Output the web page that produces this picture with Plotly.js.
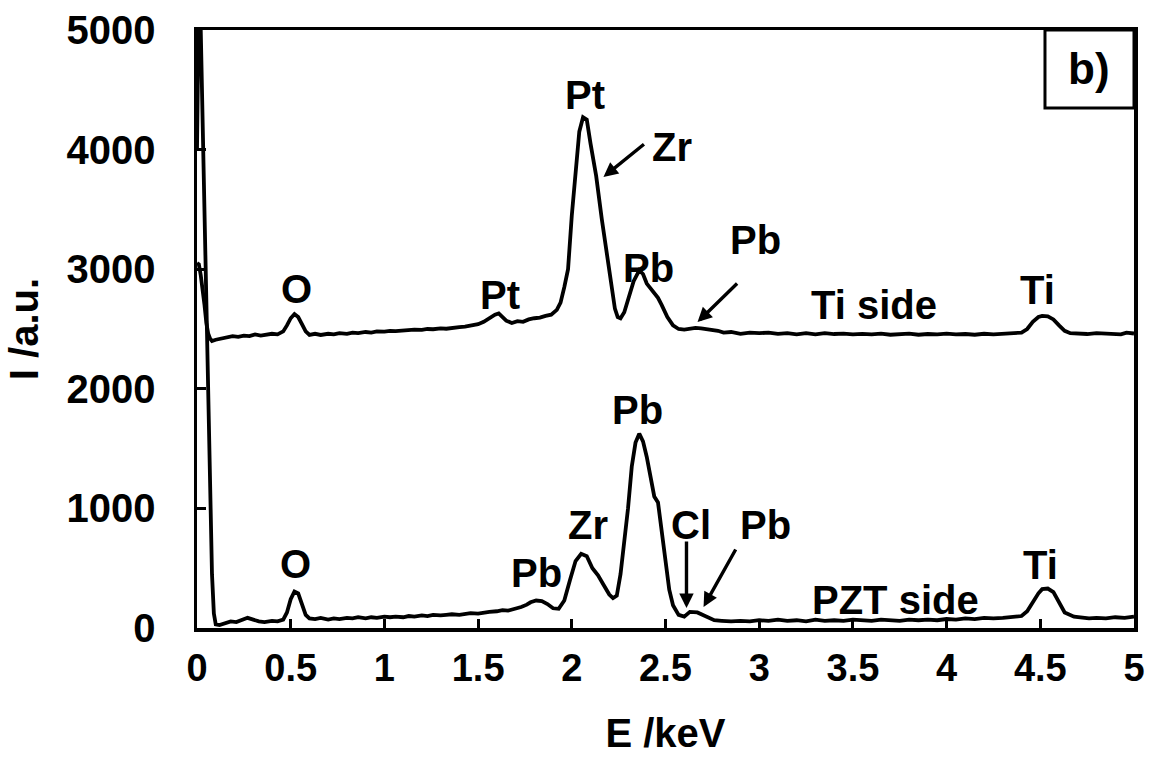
<!DOCTYPE html>
<html>
<head>
<meta charset="utf-8">
<script src="https://cdn.plot.ly/plotly-3.0.1.min.js"></script>
<style>html,body{margin:0;padding:0;background:#fff;}#chart{width:1149px;height:758px;}</style>
</head>
<body>
<div id="chart"></div>
<script>
// Ti side spectrum (upper curve)
const tiSideE = [0.00,0.01,0.02,0.03,0.04,0.05,0.06,0.07,0.08,0.10,0.13,0.16,0.19,0.22,0.25,0.28,0.31,0.34,0.37,0.40,0.43,0.46,0.48,0.50,0.52,0.54,0.56,0.58,0.60,0.63,0.66,0.70,0.73,0.76,0.80,0.83,0.86,0.90,0.93,0.96,1.00,1.03,1.06,1.10,1.13,1.16,1.20,1.23,1.26,1.30,1.33,1.36,1.40,1.43,1.46,1.50,1.53,1.56,1.59,1.61,1.63,1.65,1.68,1.71,1.74,1.77,1.80,1.83,1.86,1.89,1.92,1.94,1.96,1.98,2.00,2.02,2.04,2.06,2.08,2.10,2.13,2.16,2.19,2.21,2.23,2.245,2.26,2.28,2.30,2.33,2.36,2.38,2.40,2.43,2.46,2.48,2.51,2.54,2.57,2.60,2.63,2.66,2.69,2.72,2.75,2.78,2.81,2.85,2.90,2.95,3.00,3.05,3.10,3.15,3.20,3.25,3.30,3.35,3.40,3.45,3.50,3.55,3.60,3.65,3.70,3.75,3.80,3.85,3.90,3.95,4.00,4.05,4.10,4.15,4.20,4.25,4.30,4.35,4.40,4.43,4.46,4.49,4.51,4.54,4.57,4.60,4.63,4.66,4.70,4.75,4.80,4.85,4.90,4.93,4.96,5.00];
const tiSideI = [3050,3040,2950,2850,2700,2550,2460,2420,2400,2410,2420,2425,2440,2435,2445,2440,2455,2445,2450,2460,2455,2480,2530,2590,2625,2600,2540,2480,2450,2460,2450,2460,2455,2465,2460,2470,2465,2475,2470,2480,2478,2485,2482,2490,2488,2495,2492,2500,2498,2505,2502,2510,2515,2520,2530,2540,2560,2590,2620,2630,2600,2570,2550,2565,2560,2580,2590,2595,2610,2620,2660,2720,2850,3000,3450,3850,4150,4270,4250,4050,3780,3420,3080,2860,2670,2600,2590,2640,2750,2900,2990,2960,2880,2820,2760,2700,2600,2530,2500,2495,2500,2510,2505,2500,2490,2485,2470,2475,2460,2470,2465,2470,2460,2465,2455,2465,2455,2465,2458,2462,2455,2460,2455,2462,2452,2458,2462,2452,2458,2455,2462,2455,2458,2452,2460,2455,2458,2462,2470,2500,2560,2600,2610,2605,2580,2530,2485,2465,2460,2458,2465,2460,2462,2455,2470,2462];

// PZT side spectrum (lower curve)
const pztSideE = [0.00,0.01,0.02,0.03,0.04,0.05,0.06,0.07,0.08,0.09,0.10,0.12,0.15,0.18,0.21,0.24,0.27,0.30,0.33,0.36,0.40,0.43,0.46,0.48,0.50,0.52,0.54,0.56,0.58,0.60,0.63,0.66,0.70,0.73,0.76,0.80,0.83,0.86,0.90,0.93,0.96,1.00,1.03,1.06,1.10,1.13,1.16,1.20,1.23,1.26,1.30,1.33,1.36,1.40,1.43,1.46,1.50,1.53,1.56,1.60,1.63,1.66,1.70,1.73,1.76,1.78,1.81,1.84,1.87,1.90,1.93,1.96,1.99,2.02,2.05,2.08,2.11,2.14,2.17,2.20,2.22,2.24,2.26,2.28,2.30,2.32,2.34,2.36,2.38,2.40,2.42,2.44,2.46,2.48,2.50,2.52,2.54,2.57,2.60,2.63,2.67,2.70,2.73,2.76,2.80,2.85,2.90,2.95,3.00,3.05,3.10,3.15,3.20,3.25,3.30,3.35,3.40,3.45,3.50,3.55,3.60,3.65,3.70,3.75,3.80,3.85,3.90,3.95,4.00,4.05,4.10,4.15,4.20,4.25,4.30,4.35,4.40,4.43,4.46,4.49,4.51,4.54,4.57,4.60,4.63,4.68,4.72,4.76,4.80,4.85,4.90,4.95,5.00];
const pztSideI = [4000,5300,5000,4200,3300,2500,1700,1000,450,120,30,25,40,55,50,70,85,70,55,50,60,55,70,130,240,305,290,200,110,80,75,85,70,80,75,85,80,90,80,90,85,95,90,95,90,100,95,105,100,110,105,110,115,110,120,125,120,130,135,140,150,145,160,175,195,215,230,225,200,165,160,230,400,560,620,600,500,440,360,280,250,270,450,700,1000,1350,1550,1625,1560,1430,1250,1100,1050,800,520,320,190,110,95,135,130,110,85,65,60,55,60,55,65,60,70,60,65,55,70,60,65,60,70,65,60,70,65,60,70,65,70,65,75,70,80,75,85,80,85,90,100,140,220,290,325,330,300,220,130,95,85,80,85,80,90,85,95,90];

// Peak labels
const labelText = ["O","Pt","Pt","Zr","Pb","Pb","Ti side","Ti","Pb","Zr","Pb","Cl","Pb","PZT side","Ti","O"];
const labelE    = [0.529,1.619,2.073,2.537,2.409,2.981,3.611,4.487,2.350,2.089,1.811,2.634,3.034,3.729,4.503,0.524];
const labelI    = [2834,2784,4457,4022,3010,3244,2701,2826,1823,861,460,861,861,234,527,535];

// Arrows: head (E, I) and tail (E, I)
const arrowHeadE = [2.169,2.671,2.612,2.703];
const arrowHeadI = [3771,2558,167,176];
const arrowTailE = [2.393,2.890,2.612,2.879];
const arrowTailI = [4055,2893,736,669];

const xTicks = [0,0.5,1,1.5,2,2.5,3,3.5,4,4.5,5];
const yTicks = [0,1000,2000,3000,4000,5000];

const FONT = "Liberation Sans, Arial, sans-serif";

const traces = [
  {x: tiSideE, y: tiSideI, type: 'scatter', mode: 'lines', name: 'Ti side',
   line: {color: '#000', width: 3.8}},
  {x: pztSideE, y: pztSideI, type: 'scatter', mode: 'lines', name: 'PZT side',
   line: {color: '#000', width: 3.8}}
];

const annotations = [];
for (let i = 0; i < labelText.length; i++) {
  annotations.push({x: labelE[i], y: labelI[i], xref: 'x', yref: 'y', text: labelText[i],
    xanchor: 'center', yanchor: 'middle',
    showarrow: false, font: {family: FONT, size: 40, color: '#000', weight: 'bold'}});
}
for (let i = 0; i < arrowHeadE.length; i++) {
  annotations.push({x: arrowHeadE[i], y: arrowHeadI[i], ax: arrowTailE[i], ay: arrowTailI[i],
    xref: 'x', yref: 'y', axref: 'x', ayref: 'y', text: '', showarrow: true,
    arrowhead: 2, arrowsize: 0.85, arrowwidth: 3.4, arrowcolor: '#000'});
}
annotations.push({x: 0.9525, y: 0.935, xref: 'paper', yref: 'paper', text: 'b)', showarrow: false,
  xanchor: 'center', yanchor: 'middle',
  font: {family: FONT, size: 44, color: '#000', weight: 'bold'}});

const layout = {
  width: 1149, height: 758,
  margin: {l: 197, r: 15, t: 30, b: 130},
  paper_bgcolor: '#fff', plot_bgcolor: '#fff',
  showlegend: false,
  font: {family: FONT, color: '#000'},
  xaxis: {
    range: [0, 5], tickvals: xTicks, ticktext: xTicks.map(String),
    ticks: 'inside', ticklen: 9, tickwidth: 3, tickcolor: '#000',
    showline: true, linewidth: 3.5, linecolor: '#000', mirror: true,
    showgrid: false, zeroline: false,
    tickfont: {family: FONT, size: 38, color: '#000', weight: 'bold'},
    ticklabelstandoff: 4,
    title: {text: 'E /keV', font: {family: FONT, size: 40, color: '#000', weight: 'bold'}, standoff: 32}
  },
  yaxis: {
    range: [0, 5000], tickvals: yTicks, ticktext: yTicks.map(String),
    ticks: 'inside', ticklen: 9, tickwidth: 3, tickcolor: '#000',
    showline: true, linewidth: 3.5, linecolor: '#000', mirror: true,
    showgrid: false, zeroline: false,
    tickfont: {family: FONT, size: 40, color: '#000', weight: 'bold'},
    ticklabelstandoff: 30,
    title: {text: 'I /a.u.', font: {family: FONT, size: 40, color: '#000', weight: 'bold'}, standoff: 16}
  },
  shapes: [
    {type: 'rect', xref: 'paper', yref: 'paper', x0: 0.905, x1: 1.0, y0: 0.8696, y1: 1.0,
     line: {color: '#000', width: 3}, fillcolor: 'rgba(0,0,0,0)'}
  ],
  annotations: annotations
};

Plotly.newPlot('chart', traces, layout, {displayModeBar: false, staticPlot: true});
</script>
</body>
</html>
